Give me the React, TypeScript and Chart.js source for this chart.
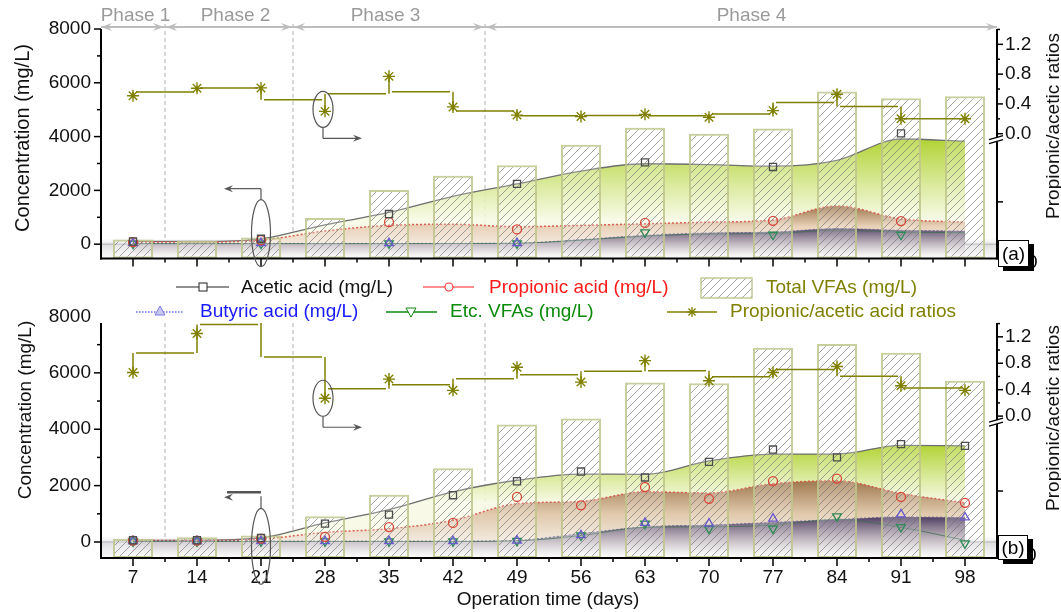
import React, { useEffect, useRef } from 'react';
import { Chart, registerables } from 'chart.js';

Chart.register(...registerables);

const FONT = "'Liberation Sans', Arial, Helvetica, sans-serif";
const OLIVE = '#808000';

const days = ['7', '14', '21', '28', '35', '42', '49', '56', '63', '70', '77', '84', '91', '98'];
const concTicks = [0, 2000, 4000, 6000, 8000];
const ratioTicks = [0, 0.4, 0.8, 1.2];
const phaseNames = ['Phase 1', 'Phase 2', 'Phase 3', 'Phase 4'];
const phaseLastIndex = [0, 2, 5];

// Panel (a)
const aTotalVFAs = [170, 130, 250, 975, 2010, 2545, 2930, 3700, 4330, 4110, 4300, 5680, 5430, 5500];
const aAceticPts = [100, null, 200, null, 1120, null, 2240, null, 3040, null, 2870, null, 4120, null];
const aAceticCurve = [100, 100, 200, 720, 1180, 1780, 2240, 2720, 2990, 2960, 2900, 3120, 3910, 3830];
const aPropPts = [80, null, 150, null, 820, null, 550, null, 790, null, 870, null, 860, null];
const aPropCurve = [80, 80, 150, 490, 700, 740, 650, 700, 760, 820, 900, 1420, 940, 820];
const aButPts = [40, null, 40, null, 40, null, 40, null, null, null, null, null, null, null];
const aButCurve = [30, 30, 30, 30, 30, 30, 40, 170, 330, 420, 450, 580, 520, 490];
const aEtcPts = [20, null, 20, null, 30, null, 30, null, 440, null, 350, null, 350, null];
const aEtcCurve = [20, 20, 20, 20, 20, 25, 35, 150, 300, 380, 400, 520, 450, 430];
const aRatios = [0.51, 0.61, 0.615, 0.3, 0.77, 0.36, 0.25, 0.23, 0.26, 0.22, 0.31, 0.53, 0.2, 0.2];

// Panel (b)
const bTotalVFAs = [110, 170, 230, 910, 1680, 2620, 4170, 4380, 5660, 5630, 6890, 7020, 6710, 5720];
const bAceticPts = [60, 60, 140, 650, 970, 1660, 2155, 2500, 2290, 2840, 3280, 3000, 3470, 3410];
const bAceticCurve = [60, 60, 150, 680, 1150, 1780, 2190, 2410, 2400, 2880, 3120, 3120, 3430, 3410];
const bPropPts = [50, 50, 120, 180, 530, 675, 1600, 1300, 1950, 1530, 2160, 2250, 1600, 1390];
const bPropCurve = [50, 50, 100, 340, 470, 770, 1360, 1440, 1780, 1740, 2070, 2170, 1720, 1390];
const bButPts = [30, 30, 30, 30, 30, 30, 50, 240, 680, 650, 830, null, 980, 870];
const bButCurve = [30, 30, 30, 30, 30, 30, 60, 300, 540, 600, 700, 800, 890, 870];
const bEtcPts = [20, 20, 20, 20, 20, 20, 40, 230, 650, 475, 475, 910, 530, -50];
const bEtcCurve = [20, 20, 20, 20, 20, 20, 40, 230, 520, 540, 600, 800, 520, 60];
const bRatios = [0.66, 1.25, 1.52, 0.27, 0.56, 0.39, 0.74, 0.515, 0.84, 0.535, 0.66, 0.75, 0.46, 0.39];

type Stop = [number, string];
type Panel = {
  key: string;
  top: number;
  height: number;
  padTop: number;
  xHeight: number;
  yMin: number;
  yMax: number;
  rMin: number;
  rMax: number;
  showX: boolean;
  phases: boolean;
  total: number[];
  aceticPts: (number | null)[];
  aceticCurve: number[];
  propPts: (number | null)[];
  propCurve: number[];
  butPts: (number | null)[];
  butCurve: number[];
  etcPts: (number | null)[];
  etcCurve: number[];
  ratios: number[];
  green: Stop[];
  brown: Stop[];
  purple: Stop[];
  ell1: { v: number; ry: number };
  lowTick: number;
  label: string;
  box: { x: number; y: number; w: number; h: number };
};

const panelA: Panel = {
  key: 'a', top: 0, height: 280, padTop: 29, xHeight: 12,
  yMin: -536, yMax: 8000, rMin: -1.677, rMax: 1.406,
  showX: false, phases: true,
  total: aTotalVFAs, aceticPts: aAceticPts, aceticCurve: aAceticCurve, propPts: aPropPts, propCurve: aPropCurve,
  butPts: aButPts, butCurve: aButCurve, etcPts: aEtcPts, etcCurve: aEtcCurve, ratios: aRatios,
  green: [[4000, 'rgba(170,207,34,0.95)'], [900, 'rgba(246,249,226,0.85)']],
  brown: [[1450, 'rgba(150,108,66,0.95)'], [650, 'rgba(232,205,180,0.9)'], [-400, 'rgba(250,248,245,0.85)']],
  purple: [[650, 'rgba(70,52,92,0.95)'], [-500, 'rgba(255,255,255,0.5)']],
  ell1: { v: 410, ry: 33.5 },
  lowTick: 0.753,
  label: '(a)',
  box: { x: 998, y: 240, w: 31, h: 27 },
};

const panelB: Panel = {
  key: 'b', top: 300, height: 312, padTop: 23, xHeight: 54,
  yMin: -568, yMax: 7769, rMin: -2.147, rMax: 1.409,
  showX: true, phases: false,
  total: bTotalVFAs, aceticPts: bAceticPts, aceticCurve: bAceticCurve, propPts: bPropPts, propCurve: bPropCurve,
  butPts: bButPts, butCurve: bButCurve, etcPts: bEtcPts, etcCurve: bEtcCurve, ratios: bRatios,
  green: [[3500, 'rgba(170,207,34,0.95)'], [1400, 'rgba(246,249,226,0.85)']],
  brown: [[2250, 'rgba(150,108,66,0.95)'], [1000, 'rgba(222,195,165,0.9)'], [-400, 'rgba(250,248,245,0.85)']],
  purple: [[900, 'rgba(70,52,92,0.95)'], [-550, 'rgba(255,255,255,0.5)']],
  ell1: { v: -153, ry: 38 },
  lowTick: 0.715,
  label: '(b)',
  box: { x: 998, y: 235, w: 30, h: 25 },
};

function vGrad(chart: any, stops: Stop[]) {
  const { ctx, chartArea, scales } = chart;
  if (!chartArea || !scales.y) return 'rgba(200,200,200,0.4)';
  const y = scales.y;
  const vTop = stops[0][0];
  const vBot = stops[stops.length - 1][0];
  const g = ctx.createLinearGradient(0, y.getPixelForValue(vTop), 0, y.getPixelForValue(vBot));
  stops.forEach(([v, c]) => g.addColorStop((v - vTop) / (vBot - vTop), c));
  return g;
}

function line(ctx: CanvasRenderingContext2D, x1: number, y1: number, x2: number, y2: number) {
  ctx.beginPath();
  ctx.moveTo(x1, y1);
  ctx.lineTo(x2, y2);
  ctx.stroke();
}

function head(ctx: CanvasRenderingContext2D, x: number, y: number, dir: number, len = 9, half = 4) {
  ctx.beginPath();
  ctx.moveTo(x, y);
  ctx.lineTo(x - dir * len, y - half);
  ctx.lineTo(x - dir * len * 0.65, y);
  ctx.lineTo(x - dir * len, y + half);
  ctx.closePath();
  ctx.fill();
}

function makeDecor(p: Panel) {
  return {
    id: 'decor' + p.key,
    beforeDatasetsDraw(chart: any) {
      const { ctx, chartArea: a, scales } = chart;
      const x = scales.x, y = scales.y;
      const n = days.length;
      const cw = (a.right - a.left) / n;
      ctx.save();
      const y0 = y.getPixelForValue(0);
      const g = ctx.createLinearGradient(0, y0 - 6, 0, a.bottom);
      g.addColorStop(0, 'rgba(200,200,205,0)');
      g.addColorStop(0.35, 'rgba(185,185,192,0.45)');
      g.addColorStop(1, 'rgba(235,235,238,0.25)');
      ctx.fillStyle = g;
      ctx.fillRect(a.left, y0 - 6, a.right - a.left, a.bottom - y0 + 6);
      ctx.strokeStyle = 'rgba(140,140,145,0.6)';
      ctx.lineWidth = 1;
      line(ctx, a.left, y0, a.right, y0);
      // phase boundaries
      ctx.strokeStyle = '#b0b0b0';
      ctx.setLineDash([4, 3]);
      const yStart = p.phases ? 24 : a.top;
      phaseLastIndex.forEach((i) => {
        const bx = a.left + (i + 1) * cw;
        line(ctx, bx, yStart, bx, a.bottom);
      });
      ctx.setLineDash([]);
      ctx.restore();
      void x;
    },
    afterDatasetsDraw(chart: any) {
      const { ctx, chartArea: a, scales } = chart;
      const x = scales.x, r = scales.y1;
      const pts = p.ratios.map((v, i) => ({ x: x.getPixelForValue(i), y: r.getPixelForValue(v) }));
      ctx.save();
      ctx.beginPath();
      ctx.rect(a.left, a.top, a.right - a.left, a.bottom - a.top);
      ctx.clip();
      ctx.strokeStyle = OLIVE;
      ctx.lineWidth = 1.5;
      const means: number[] = [];
      for (let i = 0; i < pts.length - 1; i++) {
        const m = (pts[i].y + pts[i + 1].y) / 2;
        means.push(m);
        line(ctx, pts[i].x + 3, m, pts[i + 1].x - 3, m);
      }
      for (let i = 0; i < pts.length; i++) {
        const ms: number[] = [];
        if (i > 0) ms.push(means[i - 1]);
        if (i < pts.length - 1) ms.push(means[i]);
        const lo = Math.min(pts[i].y, ...ms);
        const hi = Math.max(pts[i].y, ...ms);
        line(ctx, pts[i].x, lo, pts[i].x, hi);
      }
      ctx.restore();
    },
    afterDraw(chart: any) {
      const { ctx, chartArea: a, scales } = chart;
      const x = scales.x, y = scales.y, r = scales.y1;
      const n = days.length;
      const cw = (a.right - a.left) / n;
      ctx.save();
      ctx.strokeStyle = '#000';
      ctx.lineWidth = 2;
      line(ctx, a.left, a.top, a.left, a.bottom + 1);
      line(ctx, a.right, a.top, a.right, a.bottom + 1);
      line(ctx, a.left - 1, a.bottom, a.right + 1, a.bottom);
      ctx.lineWidth = 1.5;
      for (let v = 0; v <= p.yMax; v += 1000) {
        const py = y.getPixelForValue(v);
        line(ctx, a.left - (v % 2000 === 0 ? 7 : 4), py, a.left, py);
      }
      for (let i = 0; i < n; i++) {
        const px = x.getPixelForValue(i);
        line(ctx, px, a.bottom, px, a.bottom + 8);
      }
      for (let i = 1; i < n; i++) {
        const bx = a.left + i * cw;
        line(ctx, bx, a.bottom, bx, a.bottom + 4);
      }
      for (let k = 0; k <= 7; k++) {
        const v = k * 0.2;
        if (v > p.rMax) break;
        const py = r.getPixelForValue(v);
        line(ctx, a.right, py, a.right + (k % 2 === 0 ? 6 : 3), py);
      }
      const lowY = a.top + p.lowTick * (a.bottom - a.top);
      line(ctx, a.right, lowY, a.right + 6, lowY);
      // axis break
      const by = r.getPixelForValue(0) + 5;
      ctx.fillStyle = '#fff';
      ctx.fillRect(a.right - 2, by - 1, 4, 4);
      ctx.lineWidth = 1.3;
      line(ctx, a.right - 8, by + 1, a.right + 6, by - 3);
      line(ctx, a.right - 8, by + 5, a.right + 6, by + 1);

      // phases
      if (p.phases) {
        const bounds = [a.left, ...phaseLastIndex.map((i) => a.left + (i + 1) * cw), a.right];
        const ay = 27;
        ctx.strokeStyle = '#bdbdbd';
        ctx.fillStyle = '#bdbdbd';
        ctx.lineWidth = 2;
        line(ctx, a.left, ay, a.right, ay);
        head(ctx, a.left, ay, -1, 11, 4);
        head(ctx, a.right, ay, 1, 11, 4);
        for (let i = 1; i < bounds.length - 1; i++) {
          head(ctx, bounds[i] - 1, ay, 1, 11, 4);
          head(ctx, bounds[i] + 1, ay, -1, 11, 4);
        }
        const offs = [2.5, 6.5, -3.5, 10.5];
        ctx.fillStyle = '#9a9a9a';
        ctx.font = '19px ' + FONT;
        ctx.textAlign = 'center';
        ctx.textBaseline = 'middle';
        phaseNames.forEach((nm, i) => {
          ctx.fillText(nm, (bounds[i] + bounds[i + 1]) / 2 + offs[i], 16);
        });
      }

      // ellipse around day 21 near baseline
      ctx.strokeStyle = '#555';
      ctx.fillStyle = '#555';
      ctx.lineWidth = 1.2;
      const ex = x.getPixelForValue(2);
      const ey = y.getPixelForValue(p.ell1.v);
      ctx.beginPath();
      ctx.ellipse(ex, ey, 9.5, p.ell1.ry, 0, 0, Math.PI * 2);
      ctx.stroke();
      const topE = ey - p.ell1.ry;
      if (p.key === 'a') {
        line(ctx, ex, topE, ex, topE - 11);
        line(ctx, ex, topE - 11, ex - 32, topE - 11);
        head(ctx, ex - 37, topE - 11, -1, 9, 3.5);
      } else {
        line(ctx, ex, topE, ex, topE - 12);
        ctx.lineWidth = 2.5;
        line(ctx, ex, topE - 16, ex - 34, topE - 16);
        ctx.lineWidth = 1.2;
        head(ctx, ex - 37, topE - 11, -1, 9, 3.5);
      }
      // ellipse around ratio point at day 28
      const rx = x.getPixelForValue(3);
      const ry = r.getPixelForValue(p.ratios[3]) - (p.key === 'a' ? 2 : 0);
      ctx.beginPath();
      ctx.ellipse(rx - 2, ry, 10, 18, 0, 0, Math.PI * 2);
      ctx.stroke();
      line(ctx, rx - 2, ry + 18, rx - 2, ry + 29);
      line(ctx, rx - 2, ry + 29, rx + 32, ry + 29);
      head(ctx, rx + 37, ry + 29, 1, 9, 3.5);

      // panel label
      const b = p.box;
      ctx.font = '19px ' + FONT;
      ctx.textAlign = 'left';
      ctx.textBaseline = 'middle';
      ctx.fillStyle = '#000';
      ctx.fillText('0', b.x + b.w - 2, b.y + b.h - 4);
      ctx.fillRect(b.x + 5, b.y + 4, b.w, b.h);
      ctx.fillStyle = '#fff';
      ctx.fillRect(b.x, b.y, b.w, b.h);
      ctx.strokeStyle = '#000';
      ctx.lineWidth = 1;
      ctx.strokeRect(b.x + 0.5, b.y + 0.5, b.w - 1, b.h - 1);
      ctx.fillStyle = '#000';
      ctx.textAlign = 'center';
      ctx.fillText(p.label, b.x + b.w / 2, b.y + b.h / 2 + 1);
      ctx.restore();
    },
  };
}

function hatchPattern(ctx: CanvasRenderingContext2D) {
  const c = document.createElement('canvas');
  c.width = 8;
  c.height = 8;
  const g = c.getContext('2d')!;
  g.fillStyle = 'rgba(255,255,255,0.22)';
  g.fillRect(0, 0, 8, 8);
  g.strokeStyle = 'rgba(105,105,105,0.6)';
  g.lineWidth = 1;
  g.beginPath();
  g.moveTo(0, 8);
  g.lineTo(8, 0);
  g.moveTo(-1, 1);
  g.lineTo(1, -1);
  g.moveTo(7, 9);
  g.lineTo(9, 7);
  g.stroke();
  return ctx.createPattern(c, 'repeat');
}

function buildConfig(p: Panel, canvas: HTMLCanvasElement): any {
  const ctx = canvas.getContext('2d')!;
  const pattern = hatchPattern(ctx);
  const tickFont = { family: FONT, size: 19 };
  const markers = (data: any[], style: string, color: string, radius: number, rot = 0) => ({
    type: 'line',
    data,
    yAxisID: 'y',
    showLine: false,
    pointStyle: style,
    pointRadius: radius,
    pointRotation: rot,
    pointBorderColor: color,
    pointBackgroundColor: 'rgba(255,255,255,0)',
    pointBorderWidth: 1.3,
    borderColor: color,
    order: 1,
  });
  const curve = (data: number[], color: string, width: number, dash: number[], fill: any, bg: any, order: number) => ({
    type: 'line',
    data,
    yAxisID: 'y',
    borderColor: color,
    borderWidth: width,
    borderDash: dash,
    pointRadius: 0,
    cubicInterpolationMode: 'monotone',
    fill,
    backgroundColor: bg,
    order,
  });
  return {
    type: 'bar',
    data: {
      labels: days,
      datasets: [
        {
          type: 'line',
          data: p.ratios,
          yAxisID: 'y1',
          showLine: false,
          pointStyle: 'star',
          pointRadius: 6,
          pointBorderColor: OLIVE,
          pointBackgroundColor: OLIVE,
          pointBorderWidth: 1.4,
          borderColor: OLIVE,
          order: 0,
        },
        markers(p.aceticPts, 'rect', '#4d4d4d', 5),
        markers(p.propPts, 'circle', '#d9483c', 4.5),
        markers(p.butPts, 'triangle', '#6a5acd', 5),
        markers(p.etcPts, 'triangle', '#2e8b57', 5, 180),
        {
          type: 'bar',
          data: p.total.map((v) => [p.yMin, v]),
          yAxisID: 'y',
          backgroundColor: pattern,
          borderColor: 'rgba(192,197,140,0.85)',
          borderWidth: 2,
          borderSkipped: false,
          barPercentage: 0.625,
          categoryPercentage: 1,
          order: 2,
        },
        curve(p.etcCurve, 'rgba(60,110,80,0.75)', 1, [], false, 'transparent', 3),
        curve(p.butCurve, 'rgba(85,75,150,0.7)', 1, [2, 2], 'start', (c: any) => vGrad(c.chart, p.purple), 4),
        curve(p.propCurve, 'rgba(214,82,70,0.9)', 1.5, [2, 2], 'start', (c: any) => vGrad(c.chart, p.brown), 5),
        curve(p.aceticCurve, '#6e6e6e', 1.3, [], 'start', (c: any) => vGrad(c.chart, p.green), 6),
      ],
    },
    options: {
      responsive: false,
      animation: false,
      layout: { padding: { top: p.padTop, left: 0, right: 0, bottom: 0 } },
      plugins: { legend: { display: false }, tooltip: { enabled: false } },
      scales: {
        x: {
          type: 'category',
          offset: true,
          grid: { display: false, drawTicks: false },
          border: { display: false },
          ticks: { display: p.showX, font: tickFont, color: '#111', padding: 8, maxRotation: 0, autoSkip: false },
          afterFit: (s: any) => { s.height = p.xHeight; },
        },
        y: {
          type: 'linear',
          position: 'left',
          min: p.yMin,
          max: p.yMax,
          grid: { display: false, drawTicks: false },
          border: { display: false },
          ticks: { font: tickFont, color: '#111', padding: 10, autoSkip: false, callback: (v: any) => String(v) },
          afterBuildTicks: (s: any) => { s.ticks = concTicks.map((v) => ({ value: v })); },
          afterFit: (s: any) => { s.width = 101; },
        },
        y1: {
          type: 'linear',
          position: 'right',
          min: p.rMin,
          max: p.rMax,
          grid: { display: false, drawTicks: false },
          border: { display: false },
          ticks: { font: tickFont, color: '#111', padding: 8, autoSkip: false, callback: (v: any) => Number(v).toFixed(1) },
          afterBuildTicks: (s: any) => { s.ticks = ratioTicks.map((v) => ({ value: v })); },
          afterFit: (s: any) => { s.width = 64; },
        },
      },
    },
    plugins: [makeDecor(p)],
  };
}

function PanelChart({ p }: { p: Panel }) {
  const ref = useRef<HTMLCanvasElement>(null);
  useEffect(() => {
    const c = ref.current!;
    const chart = new Chart(c, buildConfig(p, c));
    return () => chart.destroy();
  }, [p]);
  return (
    <canvas
      ref={ref}
      width={1061}
      height={p.height}
      style={{ position: 'absolute', left: 0, top: p.top, width: 1061, height: p.height }}
    />
  );
}

const textStyle = (left: number, cy: number, color: string): React.CSSProperties => ({
  position: 'absolute',
  left,
  top: cy - 11,
  height: 22,
  lineHeight: '22px',
  fontSize: 19,
  color,
  fontFamily: FONT,
  whiteSpace: 'nowrap',
});

const rotStyle = (cx: number, cy: number, size: number): React.CSSProperties => ({
  position: 'absolute',
  left: cx,
  top: cy,
  transform: 'translate(-50%, -50%) rotate(-90deg)',
  fontSize: size,
  lineHeight: '1',
  fontFamily: FONT,
  color: '#111',
  whiteSpace: 'nowrap',
});

function Star({ cx, cy, r }: { cx: number; cy: number; r: number }) {
  const d = r * Math.SQRT1_2;
  return (
    <g stroke={OLIVE} strokeWidth={1.3}>
      <line x1={cx - r} y1={cy} x2={cx + r} y2={cy} />
      <line x1={cx} y1={cy - r} x2={cx} y2={cy + r} />
      <line x1={cx - d} y1={cy - d} x2={cx + d} y2={cy + d} />
      <line x1={cx - d} y1={cy + d} x2={cx + d} y2={cy - d} />
    </g>
  );
}

function Legend() {
  return (
    <>
      <svg
        width={1061}
        height={612}
        style={{ position: 'absolute', left: 0, top: 0, pointerEvents: 'none' }}
      >
        <defs>
          <pattern id="hatch" width="8" height="8" patternUnits="userSpaceOnUse">
            <rect width="8" height="8" fill="rgba(255,255,255,0.3)" />
            <path d="M0,8 L8,0 M-1,1 L1,-1 M7,9 L9,7" stroke="rgba(105,105,105,0.6)" strokeWidth="1" />
          </pattern>
        </defs>
        <line x1={176} y1={287} x2={229} y2={287} stroke="#222" strokeWidth={1.2} />
        <rect x={199} y={283} width={8} height={8} fill="#fff" stroke="#333" strokeWidth={1.1} />
        <line x1={423} y1={287} x2={474} y2={287} stroke="#ff2020" strokeWidth={1.2} />
        <circle cx={449} cy={287} r={4} fill="#fff" stroke="#ff3030" strokeWidth={1.1} />
        <rect x={701} y={278} width={51} height={20} fill="url(#hatch)" stroke="rgba(192,197,140,0.9)" strokeWidth={1.5} />
        <line x1={136} y1={312} x2={184} y2={312} stroke="#2020ff" strokeWidth={1.2} strokeDasharray="1.5 1.5" />
        <polygon points="160,306 165,315 155,315" fill="#c8c8f4" stroke="#7b7be0" strokeWidth={1} />
        <line x1={386} y1={312} x2={437} y2={312} stroke="#118811" strokeWidth={1.3} />
        <polygon points="406,308 416,308 411,317" fill="#fff" stroke="#118811" strokeWidth={1} />
        <line x1={667} y1={312} x2={717} y2={312} stroke={OLIVE} strokeWidth={1.3} />
        <Star cx={692} cy={312} r={5} />
      </svg>
      <div style={textStyle(241, 287, '#111')}>Acetic acid (mg/L)</div>
      <div style={textStyle(489, 287, '#ff1a1a')}>Propionic acid (mg/L)</div>
      <div style={textStyle(766, 287, OLIVE)}>Total VFAs (mg/L)</div>
      <div style={textStyle(200, 311, '#1a1aff')}>Butyric acid (mg/L)</div>
      <div style={textStyle(450, 311, '#0a8a0a')}>Etc. VFAs (mg/L)</div>
      <div style={textStyle(730, 311, OLIVE)}>Propionic/acetic acid ratios</div>
    </>
  );
}

export default function App() {
  return (
    <div style={{ position: 'absolute', left: 0, top: 0, width: 1061, height: 612, background: '#fff', overflow: 'hidden' }}>
      <PanelChart p={panelA} />
      <PanelChart p={panelB} />
      <Legend />
      <div style={rotStyle(22, 138, 20)}>Concentration (mg/L)</div>
      <div style={rotStyle(24, 410, 19)}>Concentration (mg/L)</div>
      <div style={rotStyle(1052, 126, 19)}>Propionic/acetic ratios</div>
      <div style={rotStyle(1052, 418, 19)}>Propionic/acetic ratios</div>
      <div style={{ position: 'absolute', left: 548, top: 598, transform: 'translate(-50%, -50%)', fontSize: 19, lineHeight: '1', fontFamily: FONT, color: '#111', whiteSpace: 'nowrap' }}>
        Operation time (days)
      </div>
    </div>
  );
}
